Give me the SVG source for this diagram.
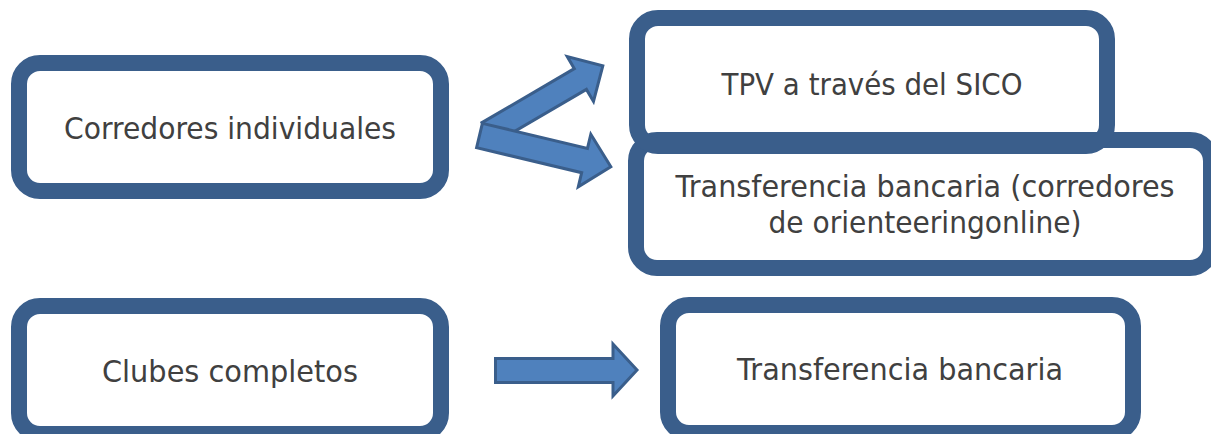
<svg xmlns="http://www.w3.org/2000/svg" width="1211" height="434" viewBox="0 0 1211 434">
<style>
.box{fill:#FFFFFF;stroke:#3A5E8B;stroke-width:16}
.open{fill:none;stroke:#3A5E8B;stroke-width:16}
.lbl{font-family:"DejaVu Sans","Liberation Sans",sans-serif;font-size:29.5px;fill:#404040;text-anchor:middle}
.arr{fill:#4F81BD;stroke:#3A5E8B;stroke-width:3;stroke-linejoin:miter}
</style>
<rect width="1211" height="434" fill="#FFFFFF"/>
<g id="node-corredores">
<rect class="box" x="19" y="63" width="422" height="128" rx="21"/>
<text class="lbl" x="230" y="139" textLength="332" lengthAdjust="spacingAndGlyphs">Corredores individuales</text>
</g>
<g id="node-transferencia-online">
<rect class="box" x="636" y="140" width="575" height="128" rx="21"/>
<text class="lbl" x="925" y="197" textLength="499" lengthAdjust="spacingAndGlyphs">Transferencia bancaria (corredores</text>
<text class="lbl" x="925" y="233" textLength="313" lengthAdjust="spacingAndGlyphs">de orienteeringonline)</text>
</g>
<g id="node-tpv">
<rect class="open" x="637" y="18" width="470" height="128" rx="21"/>
<text class="lbl" x="872" y="95" textLength="301" lengthAdjust="spacingAndGlyphs">TPV a través del SICO</text>
</g>
<g id="node-clubes">
<rect class="box" x="19" y="306" width="422" height="128" rx="21"/>
<text class="lbl" x="230" y="382" textLength="256" lengthAdjust="spacingAndGlyphs">Clubes completos</text>
</g>
<g id="node-transferencia">
<rect class="box" x="668" y="305" width="465" height="128" rx="21"/>
<text class="lbl" x="900" y="380" textLength="326" lengthAdjust="spacingAndGlyphs">Transferencia bancaria</text>
</g>
<g id="connectors">
<polygon class="arr" transform="translate(488,133) rotate(-30.3)" points="0,-12 107,-12 107,-26 133,0 107,26 107,12 0,12"/>
<polygon class="arr" transform="translate(479.5,135.5) rotate(13.4)" points="0,-12.5 108,-12.5 108,-27 135,0 108,27 108,12.5 0,12.5"/>
<polygon class="arr" points="495.5,358.5 613,358.5 613,344 637,370 613,396 613,382.5 495.5,382.5"/>
</g>
</svg>
